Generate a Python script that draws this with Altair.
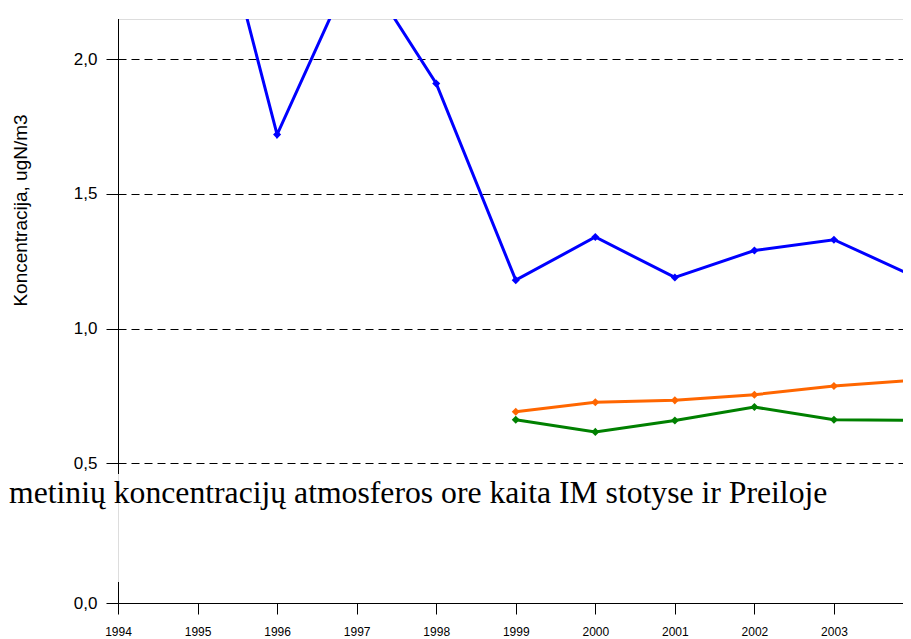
import altair as alt
import pandas as pd

# ---- data ----
series_names = ["Serija 1", "Serija 2", "Serija 3"]
series_colors = ["#0000FF", "#FF6600", "#008000"]

years_1 = [1995, 1996, 1997, 1998, 1999, 2000, 2001, 2002, 2003, 2004]
values_1 = [2.86, 1.72, 2.37, 1.91, 1.18, 1.34, 1.19, 1.29, 1.33, 1.195]

years_2 = [1999, 2000, 2001, 2002, 2003, 2004]
values_2 = [0.692, 0.727, 0.734, 0.755, 0.787, 0.809]

years_3 = [1999, 2000, 2001, 2002, 2003, 2004]
values_3 = [0.662, 0.617, 0.659, 0.709, 0.662, 0.660]

x_ticks = list(range(1994, 2005))
y_ticks = [0.0, 0.5, 1.0, 1.5, 2.0]
# broken value axis: lower piece (0 .. 0.461) and upper piece (0.461 .. 2.149)
y_break_domain = [0.0, 0.4607, 2.149]
axis_segments_lo = [0.4607, 0.0]
axis_segments_hi = [2.149, 0.075]

title_text = "metinių koncentracijų atmosferos ore kaita IM stotyse ir Preiloje"
y_title = "Koncentracija, ugN/m3"

rows = []
for name, ys, vs in zip(series_names, [years_1, years_2, years_3], [values_1, values_2, values_3]):
    for y, v in zip(ys, vs):
        rows.append({"serija": name, "metai": y, "vertė": v})
df = pd.DataFrame(rows)

seg_df = pd.DataFrame({"metai": [1994, 1994], "y1": axis_segments_lo, "y2": axis_segments_hi})
title_df = pd.DataFrame({"t": [title_text]})

W, H = 785, 584

x_scale = alt.Scale(domain=[1994, 2003.868], nice=False, zero=False)
y_scale = alt.Scale(domain=y_break_domain, range=[H, 455, 0], nice=False, zero=False)
color_scale = alt.Scale(domain=series_names, range=series_colors)

x_axis = alt.Axis(
    values=x_ticks, format="d", title=None, grid=False,
    labelFont="Liberation Sans", labelFontSize=12, labelColor="black",
    labelPadding=12, labelFlush=False, labelOverlap=False,
    tickSize=11, tickColor="black", domainColor="black", domainWidth=1,
)
y_axis = alt.Axis(
    values=y_ticks, labelExpr="replace(format(datum.value, '.1f'), '.', ',')",
    labelFont="Liberation Sans", labelFontSize=17, labelColor="black",
    labelPadding=9, labelFlush=False,
    tickSize=12, tickColor="black", domain=False,
    grid=True, gridColor="black", gridDash=[8, 5], gridWidth=1,
    title=y_title, titleFont="Liberation Sans", titleFontSize=19,
    titleFontWeight="normal", titleColor="black", titleAngle=270,
    titleX=-98, titleY=191, titleAlign="center", titleBaseline="middle",
)

base = alt.Chart(df).encode(
    x=alt.X("metai:Q", scale=x_scale, axis=x_axis),
    y=alt.Y("vertė:Q", scale=y_scale, axis=y_axis),
    color=alt.Color("serija:N", scale=color_scale, legend=None),
    detail="serija:N",
)

lines = base.mark_line(strokeWidth=3, clip=True)
points = base.mark_point(shape="diamond", filled=True, size=65, opacity=1, clip=True)

axis_rules = alt.Chart(seg_df).mark_rule(color="black", strokeWidth=1, xOffset=0.5).encode(
    x=alt.X("metai:Q", scale=x_scale),
    y=alt.Y("y1:Q", scale=y_scale),
    y2="y2:Q",
)

title_mark = alt.Chart(title_df).mark_text(
    align="left", baseline="alphabetic", font="Liberation Serif", fontSize=31.7, color="black"
).encode(x=alt.value(-109), y=alt.value(484), text="t:N")

chart = alt.layer(axis_rules, lines, points, title_mark).properties(
    width=W, height=H,
    autosize=alt.AutoSizeParams(type="none"),
    padding={"left": 110, "top": 11, "right": 0, "bottom": 36},
).configure_view(strokeWidth=0).configure(background="white")

chart.save("out.html", embed_options={"renderer": "svg", "actions": False})
